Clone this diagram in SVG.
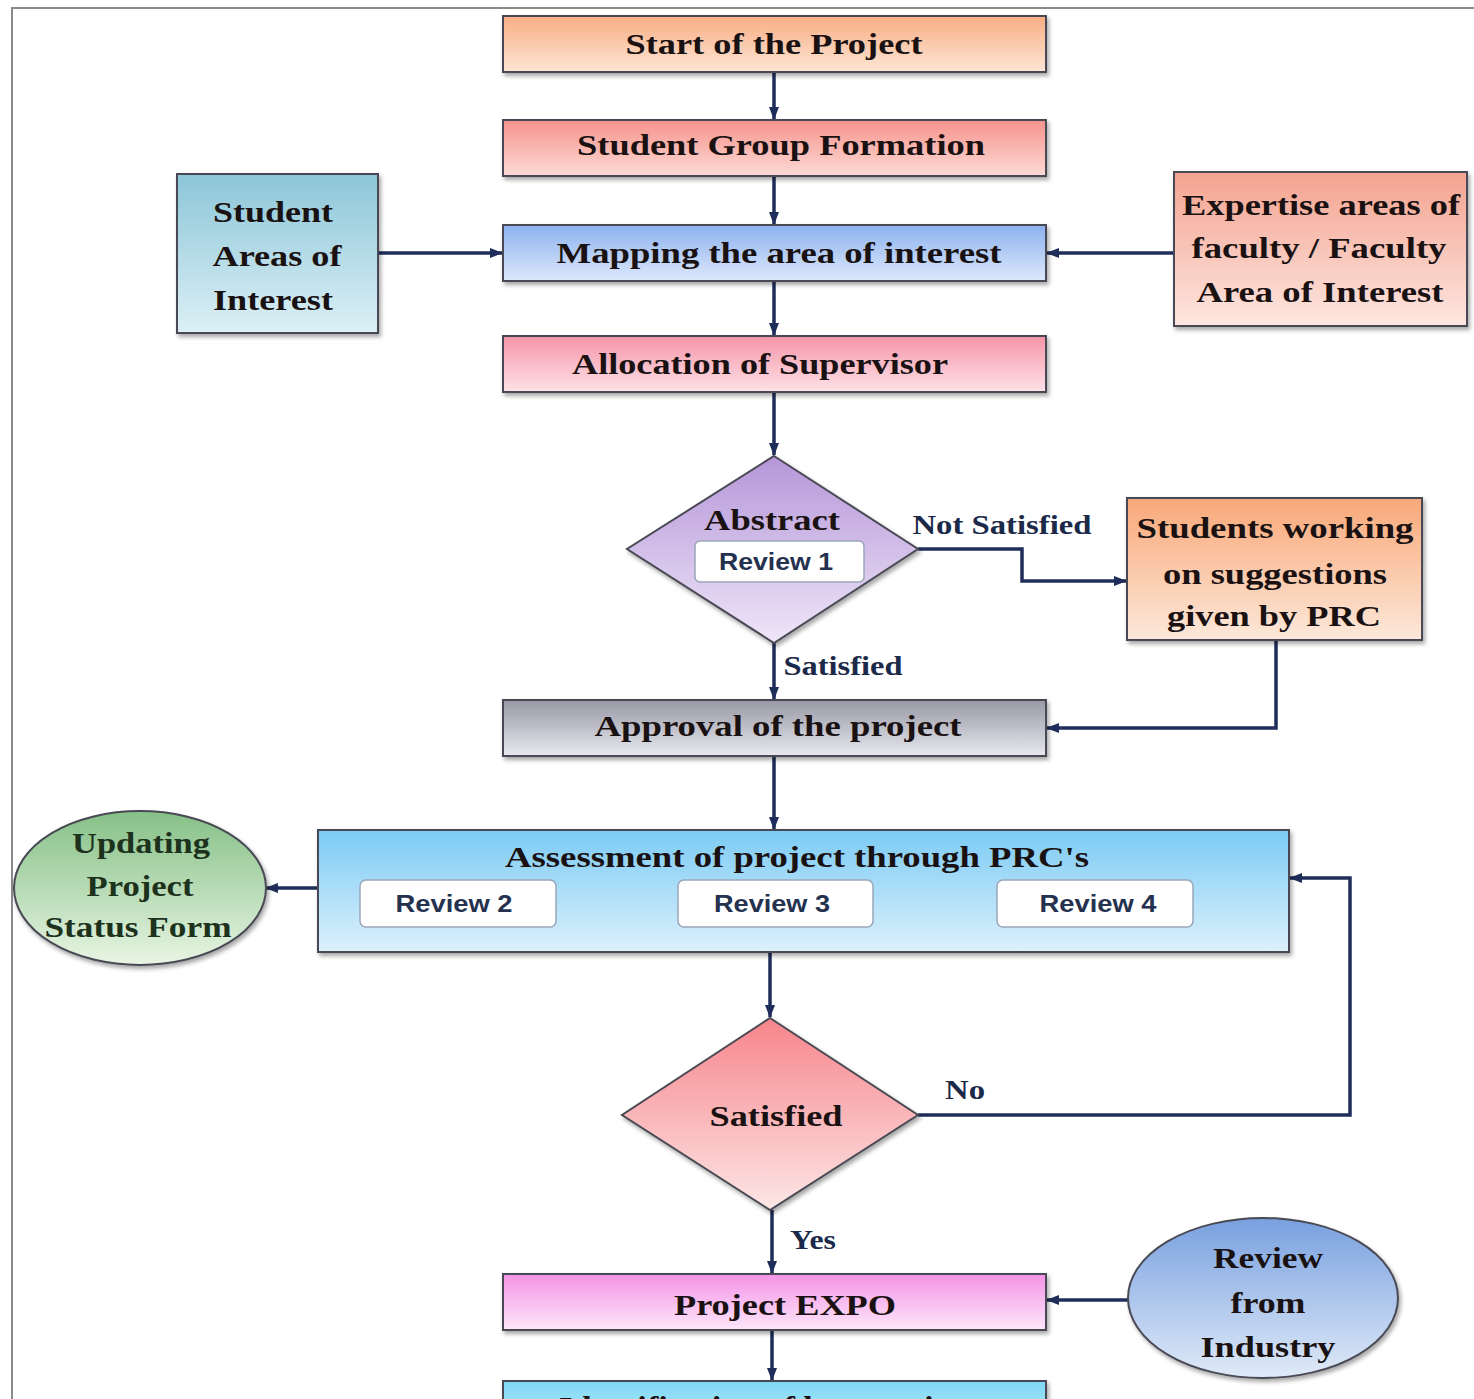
<svg xmlns="http://www.w3.org/2000/svg" width="1474" height="1399" viewBox="0 0 1474 1399">
<style>
.t{font-family:"Liberation Serif","Times New Roman",serif;font-weight:bold;font-size:30px;fill:#1a1212;text-anchor:middle}
.lbl{font-family:"Liberation Serif","Times New Roman",serif;font-weight:bold;font-size:27px;fill:#1c2a4a;text-anchor:middle}
.rv{font-family:"Liberation Sans",Arial,sans-serif;font-weight:bold;font-size:23px;fill:#24324f;text-anchor:middle}
.box{stroke:#4a4a55;stroke-width:2;filter:url(#sh)}
.rbox{fill:#ffffff;stroke:#9aa6b8;stroke-width:1.5}
.c{fill:none;stroke:#1f2d5a;stroke-width:3.5}
</style>
<defs>
<filter id="sh" x="-5%" y="-5%" width="112%" height="125%"><feDropShadow dx="2" dy="3" stdDeviation="2" flood-color="#000" flood-opacity="0.35"/></filter>
<marker id="ah" markerWidth="14" markerHeight="12" refX="12" refY="6" orient="auto" markerUnits="userSpaceOnUse"><path d="M0,1 L13,6 L0,11 z" fill="#1f2d5a"/></marker>
<linearGradient id="gStart" x1="0" y1="0" x2="0" y2="1"><stop offset="0" stop-color="#f8ad84"/><stop offset="1" stop-color="#fde6d4"/></linearGradient>
<linearGradient id="gGroup" x1="0" y1="0" x2="0" y2="1"><stop offset="0" stop-color="#f6938b"/><stop offset="1" stop-color="#fddad6"/></linearGradient>
<linearGradient id="gMap" x1="0" y1="0" x2="0" y2="1"><stop offset="0" stop-color="#8cb2ef"/><stop offset="1" stop-color="#dde8fb"/></linearGradient>
<linearGradient id="gAlloc" x1="0" y1="0" x2="0" y2="1"><stop offset="0" stop-color="#f694a7"/><stop offset="1" stop-color="#fde2e8"/></linearGradient>
<linearGradient id="gStu" x1="0" y1="0" x2="0" y2="1"><stop offset="0" stop-color="#8cc6d8"/><stop offset="1" stop-color="#dcf0f6"/></linearGradient>
<linearGradient id="gExp" x1="0" y1="0" x2="0" y2="1"><stop offset="0" stop-color="#f4a390"/><stop offset="1" stop-color="#fde6e0"/></linearGradient>
<linearGradient id="gAbs" x1="0" y1="0" x2="0" y2="1"><stop offset="0" stop-color="#b596d8"/><stop offset="1" stop-color="#efe6f8"/></linearGradient>
<linearGradient id="gWork" x1="0" y1="0" x2="0" y2="1"><stop offset="0" stop-color="#f8a878"/><stop offset="1" stop-color="#fde8da"/></linearGradient>
<linearGradient id="gAppr" x1="0" y1="0" x2="0" y2="1"><stop offset="0" stop-color="#9898a6"/><stop offset="1" stop-color="#e8e8ee"/></linearGradient>
<linearGradient id="gAss" x1="0" y1="0" x2="0" y2="1"><stop offset="0" stop-color="#7ccbf4"/><stop offset="1" stop-color="#dcf1fc"/></linearGradient>
<linearGradient id="gUpd" x1="0" y1="0" x2="0" y2="1"><stop offset="0" stop-color="#86c087"/><stop offset="1" stop-color="#e8f5e3"/></linearGradient>
<linearGradient id="gSat" x1="0" y1="0" x2="0" y2="1"><stop offset="0" stop-color="#f6858b"/><stop offset="1" stop-color="#fde6e6"/></linearGradient>
<linearGradient id="gExpo" x1="0" y1="0" x2="0" y2="1"><stop offset="0" stop-color="#f493e6"/><stop offset="1" stop-color="#fde6f9"/></linearGradient>
<linearGradient id="gInd" x1="0" y1="0" x2="0" y2="1"><stop offset="0" stop-color="#78a0df"/><stop offset="1" stop-color="#e0eaf8"/></linearGradient>
<linearGradient id="gBest" x1="0" y1="0" x2="0" y2="1"><stop offset="0" stop-color="#7dd8f5"/><stop offset="1" stop-color="#c8eefb"/></linearGradient>
</defs>
<rect x="0" y="0" width="1474" height="1399" fill="#ffffff"/>
<path d="M12,1399 L12,8 L1474,8" fill="none" stroke="#8a8a8a" stroke-width="2"/>

<g id="connectors">
<line class="c" x1="774" y1="72" x2="774" y2="119" marker-end="url(#ah)"/>
<line class="c" x1="774" y1="176" x2="774" y2="224" marker-end="url(#ah)"/>
<line class="c" x1="774" y1="281" x2="774" y2="335" marker-end="url(#ah)"/>
<line class="c" x1="774" y1="392" x2="774" y2="455" marker-end="url(#ah)"/>
<line class="c" x1="378" y1="253" x2="502" y2="253" marker-end="url(#ah)"/>
<line class="c" x1="1174" y1="253" x2="1047" y2="253" marker-end="url(#ah)"/>
<polyline class="c" points="918,549 1022,549 1022,581 1126,581" marker-end="url(#ah)"/>
<polyline class="c" points="1276,640 1276,728 1047,728" marker-end="url(#ah)"/>
<line class="c" x1="774" y1="643" x2="774" y2="699" marker-end="url(#ah)"/>
<line class="c" x1="774" y1="756" x2="774" y2="829" marker-end="url(#ah)"/>
<line class="c" x1="318" y1="888" x2="266" y2="888" marker-end="url(#ah)"/>
<line class="c" x1="770" y1="952" x2="770" y2="1017" marker-end="url(#ah)"/>
<polyline class="c" points="918,1115 1350,1115 1350,878 1290,878" marker-end="url(#ah)"/>
<line class="c" x1="772" y1="1210" x2="772" y2="1273" marker-end="url(#ah)"/>
<line class="c" x1="1128" y1="1300" x2="1047" y2="1300" marker-end="url(#ah)"/>
<line class="c" x1="772" y1="1330" x2="772" y2="1380" marker-end="url(#ah)"/>
<text class="lbl" x="1002" y="534" textLength="179" lengthAdjust="spacingAndGlyphs">Not Satisfied</text>
<text class="lbl" x="843" y="675" textLength="119" lengthAdjust="spacingAndGlyphs">Satisfied</text>
<text class="lbl" x="965" y="1099" textLength="40" lengthAdjust="spacingAndGlyphs">No</text>
<text class="lbl" x="813" y="1249" textLength="46" lengthAdjust="spacingAndGlyphs">Yes</text>
</g>

<g id="start"><rect class="box" x="503" y="16" width="543" height="56" fill="url(#gStart)"/>
<text class="t" x="774" y="54" textLength="297" lengthAdjust="spacingAndGlyphs">Start of the Project</text></g>

<g id="group"><rect class="box" x="503" y="120" width="543" height="56" fill="url(#gGroup)"/>
<text class="t" x="781" y="155" textLength="408" lengthAdjust="spacingAndGlyphs">Student Group Formation</text></g>

<g id="mapping"><rect class="box" x="503" y="225" width="543" height="56" fill="url(#gMap)"/>
<text class="t" x="779" y="263" textLength="445" lengthAdjust="spacingAndGlyphs">Mapping the area of interest</text></g>

<g id="allocation"><rect class="box" x="503" y="336" width="543" height="56" fill="url(#gAlloc)"/>
<text class="t" x="760" y="374" textLength="376" lengthAdjust="spacingAndGlyphs">Allocation of Supervisor</text></g>

<g id="student-areas"><rect class="box" x="177" y="174" width="201" height="159" fill="url(#gStu)"/>
<text class="t" x="273" y="222" textLength="120" lengthAdjust="spacingAndGlyphs">Student</text>
<text class="t" x="277" y="266" textLength="129" lengthAdjust="spacingAndGlyphs">Areas of</text>
<text class="t" x="273" y="310" textLength="120" lengthAdjust="spacingAndGlyphs">Interest</text></g>

<g id="expertise"><rect class="box" x="1174" y="172" width="293" height="154" fill="url(#gExp)"/>
<text class="t" x="1321" y="215" textLength="278" lengthAdjust="spacingAndGlyphs">Expertise areas of</text>
<text class="t" x="1319" y="258" textLength="255" lengthAdjust="spacingAndGlyphs">faculty / Faculty</text>
<text class="t" x="1320" y="302" textLength="247" lengthAdjust="spacingAndGlyphs">Area of Interest</text></g>

<g id="abstract"><polygon class="box" points="774,456 918,549 774,643 627,549" fill="url(#gAbs)"/>
<text class="t" x="772" y="530" textLength="136" lengthAdjust="spacingAndGlyphs">Abstract</text>
<rect class="rbox" x="695" y="541" width="169" height="41" rx="5"/>
<text class="rv" x="776" y="570" textLength="114" lengthAdjust="spacingAndGlyphs">Review 1</text></g>

<g id="working"><rect class="box" x="1127" y="498" width="295" height="142" fill="url(#gWork)"/>
<text class="t" x="1275" y="538" textLength="277" lengthAdjust="spacingAndGlyphs">Students working</text>
<text class="t" x="1275" y="584" textLength="224" lengthAdjust="spacingAndGlyphs">on suggestions</text>
<text class="t" x="1274" y="626" textLength="214" lengthAdjust="spacingAndGlyphs">given by PRC</text></g>

<g id="approval"><rect class="box" x="503" y="700" width="543" height="56" fill="url(#gAppr)"/>
<text class="t" x="778" y="736" textLength="367" lengthAdjust="spacingAndGlyphs">Approval of the project</text></g>

<g id="assessment"><rect class="box" x="318" y="830" width="971" height="122" fill="url(#gAss)"/>
<text class="t" x="797" y="867" textLength="584" lengthAdjust="spacingAndGlyphs">Assessment of project through PRC's</text>
<rect class="rbox" x="360" y="880" width="196" height="47" rx="6"/>
<text class="rv" x="454" y="912" textLength="117" lengthAdjust="spacingAndGlyphs">Review 2</text>
<rect class="rbox" x="678" y="880" width="195" height="47" rx="6"/>
<text class="rv" x="772" y="912" textLength="116" lengthAdjust="spacingAndGlyphs">Review 3</text>
<rect class="rbox" x="997" y="880" width="196" height="47" rx="6"/>
<text class="rv" x="1098" y="912" textLength="117" lengthAdjust="spacingAndGlyphs">Review 4</text></g>

<g id="updating"><ellipse class="box" cx="140" cy="888" rx="126" ry="77" fill="url(#gUpd)"/>
<text class="t" x="141" y="853" textLength="138" lengthAdjust="spacingAndGlyphs" style="fill:#1c321c">Updating</text>
<text class="t" x="140" y="896" textLength="107" lengthAdjust="spacingAndGlyphs" style="fill:#1c321c">Project</text>
<text class="t" x="138" y="937" textLength="187" lengthAdjust="spacingAndGlyphs" style="fill:#1c321c">Status Form</text></g>

<g id="satisfied"><polygon class="box" points="770,1018 918,1115 770,1210 622,1115" fill="url(#gSat)"/>
<text class="t" x="776" y="1126" textLength="133" lengthAdjust="spacingAndGlyphs">Satisfied</text></g>

<g id="expo"><rect class="box" x="503" y="1274" width="543" height="56" fill="url(#gExpo)"/>
<text class="t" x="785" y="1315" textLength="222" lengthAdjust="spacingAndGlyphs">Project EXPO</text></g>

<g id="industry"><ellipse class="box" cx="1263" cy="1298" rx="135" ry="80" fill="url(#gInd)"/>
<text class="t" x="1268" y="1268" textLength="110" lengthAdjust="spacingAndGlyphs">Review</text>
<text class="t" x="1268" y="1313" textLength="75" lengthAdjust="spacingAndGlyphs">from</text>
<text class="t" x="1268" y="1357" textLength="135" lengthAdjust="spacingAndGlyphs">Industry</text></g>

<g id="best"><rect class="box" x="503" y="1381" width="543" height="56" fill="url(#gBest)"/>
<text class="t" x="774" y="1417" textLength="430" lengthAdjust="spacingAndGlyphs">Identification of best projects</text></g>
</svg>
